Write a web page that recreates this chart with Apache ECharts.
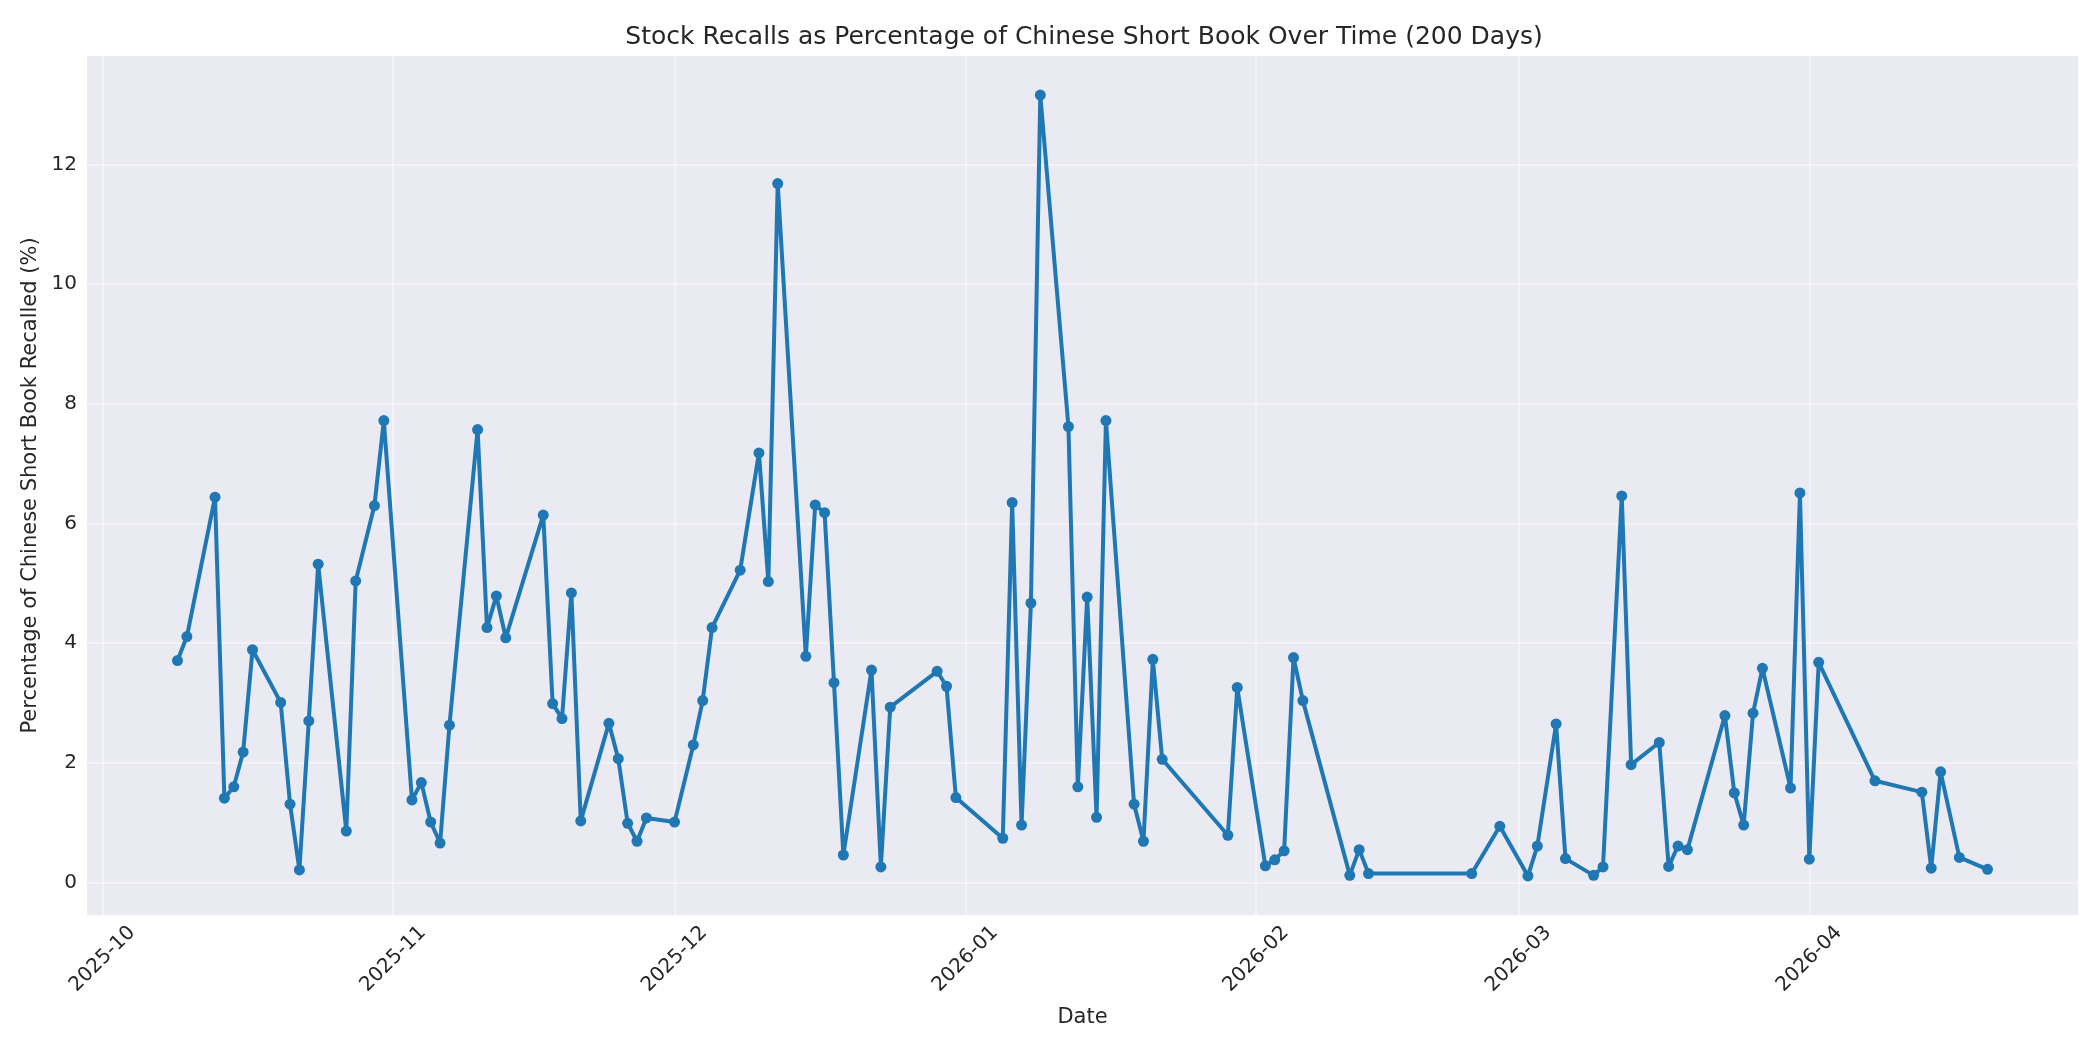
<!DOCTYPE html>
<html>
<head>
<meta charset="utf-8">
<title>Stock Recalls</title>
<script src="https://cdn.jsdelivr.net/npm/echarts@6/dist/echarts.min.js"></script>
<style>
  html, body { margin: 0; padding: 0; background: #fff; }
  #chart { width: 2100px; height: 1050px; }
</style>
</head>
<body>
<div id="chart"></div>
<script>
// trading days
var dates = [
  '2025-10-09', '2025-10-10', '2025-10-13', '2025-10-14', '2025-10-15', '2025-10-16', '2025-10-17',
  '2025-10-20', '2025-10-21', '2025-10-22', '2025-10-23', '2025-10-24', '2025-10-27', '2025-10-28',
  '2025-10-30', '2025-10-31', '2025-11-03', '2025-11-04', '2025-11-05', '2025-11-06', '2025-11-07',
  '2025-11-10', '2025-11-11', '2025-11-12', '2025-11-13', '2025-11-17', '2025-11-18', '2025-11-19',
  '2025-11-20', '2025-11-21', '2025-11-24', '2025-11-25', '2025-11-26', '2025-11-27', '2025-11-28',
  '2025-12-01', '2025-12-03', '2025-12-04', '2025-12-05', '2025-12-08', '2025-12-10', '2025-12-11',
  '2025-12-12', '2025-12-15', '2025-12-16', '2025-12-17', '2025-12-18', '2025-12-19', '2025-12-22',
  '2025-12-23', '2025-12-24', '2025-12-29', '2025-12-30', '2025-12-31', '2026-01-05', '2026-01-06',
  '2026-01-07', '2026-01-08', '2026-01-09', '2026-01-12', '2026-01-13', '2026-01-14', '2026-01-15',
  '2026-01-16', '2026-01-19', '2026-01-20', '2026-01-21', '2026-01-22', '2026-01-29', '2026-01-30',
  '2026-02-02', '2026-02-03', '2026-02-04', '2026-02-05', '2026-02-06', '2026-02-11', '2026-02-12',
  '2026-02-13', '2026-02-24', '2026-02-27', '2026-03-02', '2026-03-03', '2026-03-05', '2026-03-06',
  '2026-03-09', '2026-03-10', '2026-03-12', '2026-03-13', '2026-03-16', '2026-03-17', '2026-03-18',
  '2026-03-19', '2026-03-23', '2026-03-24', '2026-03-25', '2026-03-26', '2026-03-27', '2026-03-30',
  '2026-03-31', '2026-04-01', '2026-04-02', '2026-04-08', '2026-04-13', '2026-04-14', '2026-04-15',
  '2026-04-17', '2026-04-20'
];
// % of chinese short book recalled
var recallPct = [
  3.71, 4.11, 6.44, 1.41, 1.60, 2.18, 3.89,
  3.01, 1.31, 0.21, 2.70, 5.32, 0.86, 5.04,
  6.30, 7.72, 1.38, 1.67, 1.01, 0.66, 2.63,
  7.57, 4.26, 4.79, 4.09, 6.14, 2.99, 2.74,
  4.84, 1.03, 2.66, 2.07, 0.99, 0.69, 1.08,
  1.01, 2.30, 3.04, 4.26, 5.22, 7.18, 5.03,
  11.68, 3.78, 6.31, 6.18, 3.34, 0.46, 3.55,
  0.26, 2.93, 3.53, 3.28, 1.42, 0.74, 6.35,
  0.96, 4.67, 13.16, 7.62, 1.60, 4.77, 1.09,
  7.72, 1.31, 0.69, 3.73, 2.06, 0.79, 3.26,
  0.28, 0.38, 0.53, 3.76, 3.04, 0.12, 0.55,
  0.15, 0.15, 0.94, 0.11, 0.61, 2.65, 0.40,
  0.12, 0.26, 6.46, 1.97, 2.34, 0.27, 0.61,
  0.55, 2.79, 1.50, 0.96, 2.83, 3.58, 1.58,
  6.51, 0.39, 3.68, 1.70, 1.51, 0.24, 1.85,
  0.42, 0.22
];
// tick labels
var monthTicks = ['2025-10', '2025-11', '2025-12', '2026-01', '2026-02', '2026-03', '2026-04'];
var yTicks = [0, 2, 4, 6, 8, 10, 12];

var TEXT = '#262626';
var FONT = 'DejaVu Sans';

// 转成时间戳 (UTC)
function toTs(s) {
	return new Date(s.length == 7 ? s + '-01T00:00:00Z' : s + 'T00:00:00Z').getTime();
}
function pad(n) {
	return n < 10 ? '0' + n : '' + n;
}

var seriesData = [];
for (var i = 0; i < dates.length; i++) {
	seriesData.push([toTs(dates[i]), recallPct[i]]);
}
var xTickVals = monthTicks.map(toTs);

// matplotlib style 5% margins
var xFirst = seriesData[0][0], xLast = seriesData[seriesData.length - 1][0];
var xPad = (xLast - xFirst) * 0.05;
var yLo = Math.min.apply(null, recallPct), yHi = Math.max.apply(null, recallPct);
var yPad = (yHi - yLo) * 0.05;

var myChart = echarts.init(document.getElementById('chart'), null, { renderer: 'canvas' });
var option = {
	backgroundColor: '#ffffff',
	animation: false,
	title: {
		text: 'Stock Recalls as Percentage of Chinese Short Book Over Time (200 Days)',
		left: 1079,
		top: 20,
		textAlign: 'center',
		textStyle: { fontFamily: FONT, fontSize: 25, fontWeight: 'normal', color: TEXT }
	},
	grid: {
		left: 87,
		right: 22,
		top: 56,
		bottom: 135,
		show: true,
		backgroundColor: '#EAEAF2',
		borderWidth: 0,
		containLabel: false
	},
	xAxis: {
		// 用数值轴放时间戳，标签自己格式化
		type: 'value',
		min: xFirst - xPad,
		max: xLast + xPad,
		name: 'Date',
		nameLocation: 'middle',
		nameGap: 92,
		nameTextStyle: { fontFamily: FONT, fontSize: 21, color: TEXT },
		axisLine: { show: false },
		axisTick: { show: false, customValues: xTickVals },
		axisLabel: {
			customValues: xTickVals,
			rotate: 45,
			// 标签中心对准刻度
			align: 'center',
			verticalAlign: 'middle',
			margin: 44,
			fontFamily: FONT,
			fontSize: 20,
			color: TEXT,
			hideOverlap: false,
			formatter: function(v) {
				var d = new Date(v);
				return d.getUTCFullYear() + '-' + pad(d.getUTCMonth() + 1);
			}
		},
		splitLine: { show: true, lineStyle: { color: 'rgba(255,255,255,0.5)', width: 1.5 } }
	},
	yAxis: {
		type: 'value',
		min: yLo - yPad,
		max: yHi + yPad,
		name: 'Percentage of Chinese Short Book Recalled (%)',
		nameLocation: 'middle',
		nameGap: 43,
		nameTextStyle: { fontFamily: FONT, fontSize: 21, color: TEXT },
		axisLine: { show: false },
		axisTick: { show: false, customValues: yTicks },
		axisLabel: {
			customValues: yTicks,
			margin: 10,
			fontFamily: FONT,
			fontSize: 20,
			color: TEXT
		},
		splitLine: { show: true, lineStyle: { color: 'rgba(255,255,255,0.5)', width: 1.5 } }
	},
	series: [{
		name: 'Recall %',
		type: 'line',
		data: seriesData,
		symbol: 'circle',
		symbolSize: 11,
		showAllSymbol: true,
		lineStyle: { color: '#1f77b4', width: 4 },
		itemStyle: { color: '#1f77b4' }
	}]
};
myChart.setOption(option);
</script>
</body>
</html>
